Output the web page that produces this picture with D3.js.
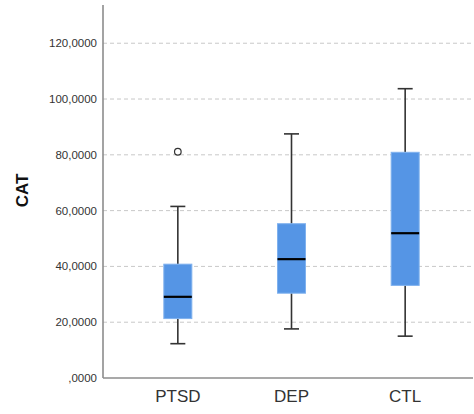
<!DOCTYPE html>
<html>
<head>
<meta charset="utf-8">
<script src="https://cdn.jsdelivr.net/npm/d3@7"></script>
<style>
  body { margin: 0; background: #fff; }
  text { font-family: Arial, "Liberation Sans", sans-serif; }
</style>
</head>
<body>
<div id="content"></div>
<script>
const width = 474;
const height = 414;

// data
const groups = ['PTSD', 'DEP', 'CTL'];
const whiskerLow = [12.3, 17.6, 15.0];
const q1 = [21.3, 30.4, 33.2];
const median = [29.1, 42.6, 51.9];
const q3 = [40.8, 55.3, 80.9];
const whiskerHigh = [61.5, 87.5, 103.7];
const outliers = [{g: 'PTSD', v: 81.1}];
const yTicks = [0, 20, 40, 60, 80, 100, 120];

const padLeft = 103, padRight = 473, padTop = 5, padBottom = 378;

const fig = d3.select('#content')
    .append('svg')
    .attr('width', width)
    .attr('height', height);

const y = d3.scaleLinear()
    .domain([0, 133.7])
    .range([padBottom, padTop]);

const x = d3.scaleBand()
    .domain(groups)
    .range([padLeft + 18, padRight - 11]);

const fmt = (d) => d === 0 ? ',0000' : d3.format('d')(d) + ',0000';

// gridlines
fig.append('g')
    .selectAll('line')
    .data(yTicks.filter(d => d > 0))
    .join('line')
    .attr('x1', padLeft)
    .attr('x2', padRight)
    .attr('y1', (d) => y(d))
    .attr('y2', (d) => y(d))
    .attr('stroke', '#c8c8c8')
    .attr('stroke-width', 1)
    .attr('stroke-dasharray', '4,3');

// y tick labels
fig.append('g')
    .selectAll('text')
    .data(yTicks)
    .join('text')
    .attr('x', padLeft - 6)
    .attr('y', (d) => y(d))
    .attr('dy', '0.35em')
    .attr('text-anchor', 'end')
    .attr('font-size', 11.5)
    .attr('fill', '#333')
    .text(fmt);

// axis lines
fig.append('line')
    .attr('x1', padLeft).attr('x2', padLeft)
    .attr('y1', padTop).attr('y2', padBottom)
    .attr('stroke', '#8c8c8c').attr('stroke-width', 1.6);
fig.append('line')
    .attr('x1', padLeft).attr('x2', padRight)
    .attr('y1', padBottom).attr('y2', padBottom)
    .attr('stroke', '#8c8c8c').attr('stroke-width', 1.6);

// y axis title
fig.append('text')
    .attr('transform', 'translate(28,190.5) rotate(-90)')
    .attr('text-anchor', 'middle')
    .attr('font-size', 17)
    .attr('font-weight', 'bold')
    .attr('fill', '#111')
    .text('CAT');

// x labels
fig.append('g')
    .selectAll('text')
    .data(groups)
    .join('text')
    .attr('x', (d) => x(d) + x.bandwidth() / 2)
    .attr('y', 401.5)
    .attr('text-anchor', 'middle')
    .attr('font-size', 17)
    .attr('fill', '#333')
    .text((d) => d);

const boxW = 28, capW = 15;
const stats = groups.map((g, i) => ({
    g: g, lo: whiskerLow[i], q1: q1[i], med: median[i], q3: q3[i], hi: whiskerHigh[i]
}));
const cx = (d) => x(d.g) + x.bandwidth() / 2;

const boxes = fig.append('g')
    .selectAll('g')
    .data(stats)
    .join('g');

// whiskers
boxes.append('line')
    .attr('x1', cx).attr('x2', cx)
    .attr('y1', (d) => y(d.lo)).attr('y2', (d) => y(d.q1))
    .attr('stroke', '#333').attr('stroke-width', 1.6);
boxes.append('line')
    .attr('x1', cx).attr('x2', cx)
    .attr('y1', (d) => y(d.q3)).attr('y2', (d) => y(d.hi))
    .attr('stroke', '#333').attr('stroke-width', 1.6);
boxes.append('line')
    .attr('x1', (d) => cx(d) - capW / 2).attr('x2', (d) => cx(d) + capW / 2)
    .attr('y1', (d) => y(d.lo)).attr('y2', (d) => y(d.lo))
    .attr('stroke', '#333').attr('stroke-width', 1.6);
boxes.append('line')
    .attr('x1', (d) => cx(d) - capW / 2).attr('x2', (d) => cx(d) + capW / 2)
    .attr('y1', (d) => y(d.hi)).attr('y2', (d) => y(d.hi))
    .attr('stroke', '#333').attr('stroke-width', 1.6);

// boxes
boxes.append('rect')
    .attr('x', (d) => cx(d) - boxW / 2)
    .attr('y', (d) => y(d.q3))
    .attr('width', boxW)
    .attr('height', (d) => y(d.q1) - y(d.q3))
    .attr('fill', '#5595e5')
    .attr('stroke', '#7fb1ee')
    .attr('stroke-width', 1);

// medians
boxes.append('line')
    .attr('x1', (d) => cx(d) - boxW / 2).attr('x2', (d) => cx(d) + boxW / 2)
    .attr('y1', (d) => y(d.med)).attr('y2', (d) => y(d.med))
    .attr('stroke', '#000').attr('stroke-width', 2.2);

// outliers
fig.append('g')
    .selectAll('circle')
    .data(outliers)
    .join('circle')
    .attr('cx', (d) => x(d.g) + x.bandwidth() / 2)
    .attr('cy', (d) => y(d.v))
    .attr('r', 3.3)
    .attr('fill', 'none')
    .attr('stroke', '#333')
    .attr('stroke-width', 1.2);
</script>
</body>
</html>
